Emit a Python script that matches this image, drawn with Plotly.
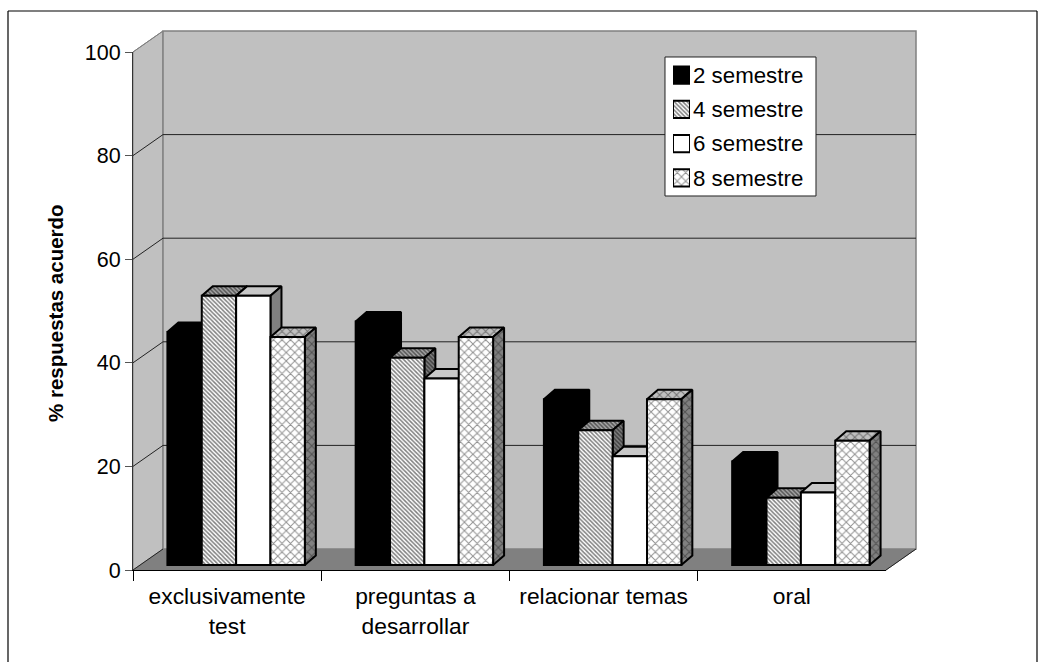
import plotly.graph_objects as go

categories = ["exclusivamente<br>test", "preguntas a<br>desarrollar", "relacionar temas", "oral"]
series_names = ["2 semestre", "4 semestre", "6 semestre", "8 semestre"]
values_2 = [45, 47, 32, 20]
values_4 = [52, 40, 26, 13]
values_6 = [52, 36, 21, 14]
values_8 = [44, 44, 32, 24]
y_ticks = [0, 20, 40, 60, 80, 100]
all_values = [values_2, values_4, values_6, values_8]

W, H = 1045, 662
FX0, FX1, FY0, FY1 = 133, 886, 570, 52        # front plane of the axes
BDX, BDY = 30, 21                             # depth of the walls
PDX, PDY = 9, 5                               # where bar fronts stand
DX, DY = 11, 9.5                              # depth of one bar
UNIT = (FY0 - FY1) / 100
CAT = (FX1 - FX0) / 4
GROUP = 0.73
BW = GROUP / 4


def px(x):
    return x / W


def py(y):
    return 1 - y / H


def poly(points, **kw):
    path = "M" + "L".join(f"{px(a):.5f},{py(b):.5f}" for a, b in points) + "Z"
    return dict(type="path", xref="paper", yref="paper", path=path, layer="below", **kw)


def seg(x0, y0, x1, y1, color, width=1):
    return dict(type="line", xref="paper", yref="paper", x0=px(x0), y0=py(y0), x1=px(x1), y1=py(y1),
                line=dict(color=color, width=width), layer="below")


shapes = [
    poly([(FX0, FY0), (FX0 + BDX, FY0 - BDY), (FX1 + BDX, FY0 - BDY), (FX1, FY0)],
         fillcolor="#808080", line=dict(color="#808080", width=1)),
    poly([(FX0, FY0), (FX0, FY1), (FX0 + BDX, FY1 - BDY), (FX0 + BDX, FY0 - BDY)],
         fillcolor="#c0c0c0", line=dict(color="#808080", width=1)),
    poly([(FX0 + BDX, FY0 - BDY), (FX0 + BDX, FY1 - BDY), (FX1 + BDX, FY1 - BDY), (FX1 + BDX, FY0 - BDY)],
         fillcolor="#c0c0c0", line=dict(color="#808080", width=1.5)),
    seg(FX1, FY0, FX1 + BDX, FY0 - BDY, "#222222"),
    seg(8, 11, 1037, 11, "#000000", 1.2),
    seg(8, 11, 8, 662, "#000000", 1.2),
    seg(1037, 11, 1037, 662, "#000000", 1.2),
]
for t in y_ticks:
    yy = FY0 - t * UNIT
    color = "#808080" if t == 100 else "#222222"
    shapes.append(seg(FX0, yy, FX0 + BDX, yy - BDY, color))
    if 0 < t < 100:
        shapes.append(seg(FX0 + BDX, yy - BDY, FX1 + BDX, yy - BDY, "#222222"))
# legend box
shapes.append(poly([(665, 57), (816, 57), (816, 196), (665, 196)], fillcolor="#ffffff",
                   line=dict(color="#222222", width=1)))

face_fill = [
    dict(top="#000000", side="#000000", pattern=None),
    dict(top="#a8a8a8", side="#808080", pattern=dict(shape="\\", size=3, solidity=0.5, fgcolor="#000000")),
    dict(top="#c8c8c8", side="#808080", pattern=None),
    dict(top="#c0c0c0", side="#808080", pattern=dict(shape="x", size=6, solidity=0.3, fgcolor="#222222")),
]
front_color = ["#000000", "#ffffff", "#ffffff", "#ffffff"]

fig = go.Figure()
# main axes: only carries the visible scales
fig.add_trace(go.Scatter(x=categories, y=[0] * 4, mode="lines", opacity=0, showlegend=False, hoverinfo="skip"))

dx_u, dy_u = DX / CAT, DY / UNIT
for i, vals in enumerate(all_values):
    tx, ty, sx, sy = [], [], [], []
    for k, v in enumerate(vals):
        xl = k - GROUP / 2 + i * BW
        xr = xl + BW
        tx += [xl, xl + dx_u, xr + dx_u, xr, xl, None]
        ty += [v, v + dy_u, v + dy_u, v, v, None]
        sx += [xr, xr + dx_u, xr + dx_u, xr, xr, None]
        sy += [0, dy_u, v + dy_u, v, 0, None]
    f = face_fill[i]
    for xs, ys, col in ((tx, ty, f["top"]), (sx, sy, f["side"])):
        kw = dict(fillcolor=col)
        if f["pattern"]:
            kw = dict(fillpattern=dict(bgcolor=col, **f["pattern"]), fillcolor=col)
        fig.add_trace(go.Scatter(x=xs, y=ys, xaxis="x2", yaxis="y2", mode="lines", fill="toself",
                                 line=dict(color="#000000", width=2), showlegend=False,
                                 hoverinfo="skip", **kw))


def bar_marker(i):
    p = face_fill[i]["pattern"]
    marker = dict(color=front_color[i], line=dict(color="#000000", width=2))
    if p:
        marker["pattern"] = dict(bgcolor="#ffffff", **p)
    return marker


for i, (name, vals) in enumerate(zip(series_names, all_values)):
    fig.add_trace(go.Bar(x=list(range(4)), y=vals, name=name, xaxis="x3", yaxis="y3",
                         marker=bar_marker(i), showlegend=False))

# legend keys: one short bar per series on a small axis whose tick labels are the series names
for i, name in enumerate(series_names):
    fig.add_trace(go.Bar(x=[1], y=[name], orientation="h", name=name, xaxis="x4", yaxis="y4",
                         marker=bar_marker(i), width=0.5, showlegend=False, hoverinfo="skip"))

LOW = -3
dom_x = [px(FX0 + PDX), px(FX1 + PDX)]
dom_y = [py(FY0 - PDY - LOW * UNIT), py(FY1 - PDY)]
hidden = dict(visible=False, fixedrange=True)
tickfont = dict(family="Liberation Sans", size=21.5, color="#000000")
catfont = dict(family="Liberation Sans", size=22.8, color="#000000")

fig.update_layout(
    width=W, height=H, margin=dict(l=0, r=0, t=0, b=0, autoexpand=False),
    paper_bgcolor="#ffffff", plot_bgcolor="rgba(0,0,0,0)",
    barmode="group", bargap=1 - GROUP, bargroupgap=0,
    shapes=shapes, showlegend=False,
    xaxis=dict(domain=[px(FX0), px(FX1)], type="category", tickson="boundaries", categoryorder="array",
               categoryarray=categories, range=[-0.5, 3.5], showgrid=False, zeroline=False, showline=True,
               linecolor="#000000", linewidth=1, ticks="outside", ticklen=10, tickcolor="#000000",
               tickfont=catfont, fixedrange=True, ticklabelstandoff=6),
    yaxis=dict(domain=[py(FY0), py(FY1)], range=[0, 100], tickvals=y_ticks, showgrid=False, zeroline=False,
               showline=True, linecolor="#333333", linewidth=1, ticks="outside", ticklen=7, tickcolor="#555555",
               tickfont=tickfont, fixedrange=True),
    xaxis2=dict(domain=dom_x, range=[-0.5, 3.5], anchor="y2", **hidden),
    yaxis2=dict(domain=dom_y, range=[LOW, 100], anchor="x2", **hidden),
    xaxis3=dict(domain=dom_x, range=[-0.5, 3.5], anchor="y3", **hidden),
    yaxis3=dict(domain=dom_y, range=[LOW, 100], anchor="x3", **hidden),
    xaxis4=dict(domain=[px(673), px(690)], range=[0, 1], anchor="y4", **hidden),
    yaxis4=dict(domain=[py(195), py(58)], type="category", categoryorder="array",
                categoryarray=series_names[::-1], anchor="x4", side="right", showgrid=False, zeroline=False,
                showline=False, ticks="", tickfont=dict(family="Liberation Sans", size=22.3, color="#000000"),
                fixedrange=True, ticklabelstandoff=2),
    annotations=[dict(text="<b>% respuestas acuerdo</b>", xref="paper", yref="paper", x=px(55), y=py(313),
                      xanchor="center", yanchor="middle", showarrow=False, textangle=-90,
                      font=dict(family="Liberation Sans", size=20.5, color="#000000"))],
)
fig.write_html("out.html", post_script="document.body.style.margin='0';", config={"displayModeBar": False})
